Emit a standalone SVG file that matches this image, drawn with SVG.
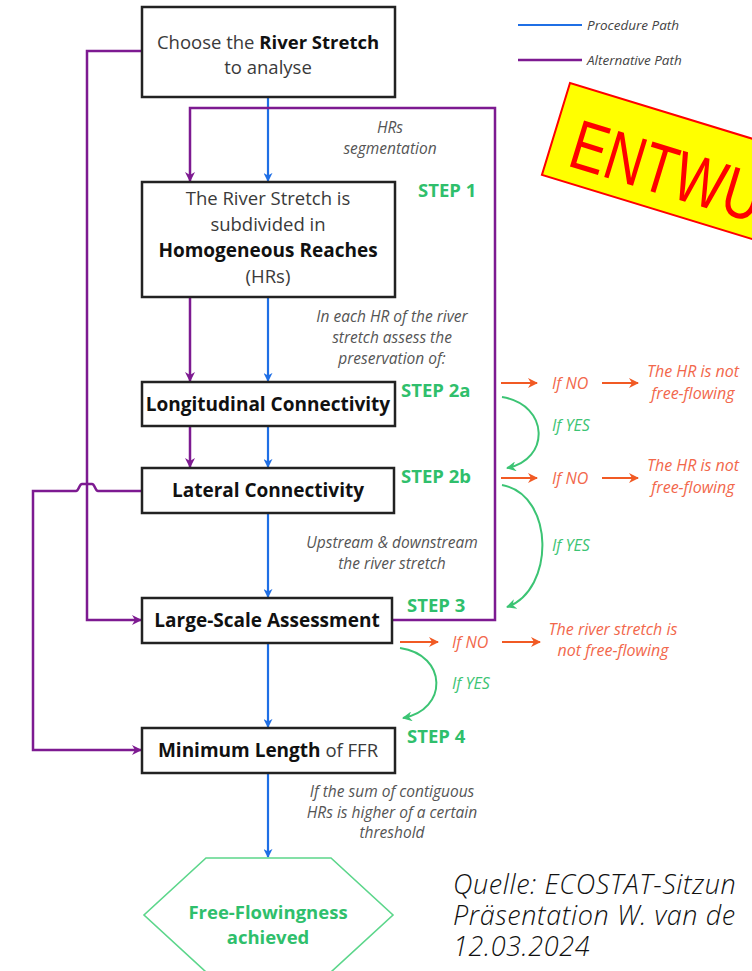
<svg xmlns="http://www.w3.org/2000/svg" width="752" height="971" viewBox="0 0 752 971">
<defs>
<style>
.box{fill:#fff;stroke:#222;stroke-width:2.5}
.t{font-family:"Open Sans","Noto Sans",sans-serif;fill:#3a3a3a;text-anchor:middle;font-size:18.5px}
.b{font-weight:bold;fill:#111}
.bt{font-family:"Open Sans","Noto Sans",sans-serif;font-weight:bold;fill:#111;text-anchor:middle;font-size:19px}
.note{font-family:"Open Sans","Noto Sans",sans-serif;font-style:italic;fill:#555;font-size:15.5px;text-anchor:middle}
.step{font-family:"Open Sans","Noto Sans",sans-serif;font-weight:bold;fill:#2fbf6c;font-size:18.5px}
.or{font-family:"Open Sans","Noto Sans",sans-serif;font-style:italic;fill:#f2674b;font-size:16px}
.yes{font-family:"Open Sans","Noto Sans",sans-serif;font-style:italic;fill:#3cc474;font-size:16px}
.blue{fill:none;stroke:#1f6fe5;stroke-width:2.2}
.purple{fill:none;stroke:#7d1a91;stroke-width:2.5}
.orange{fill:none;stroke:#f15a24;stroke-width:2.2}
.green{fill:none;stroke:#3cc474;stroke-width:2}
.leg{font-family:"Open Sans","Noto Sans",sans-serif;font-style:italic;fill:#444;font-size:13.5px}
</style>
<marker id="ab" viewBox="0 0 10 10" refX="9" refY="5" markerWidth="9" markerHeight="9" markerUnits="userSpaceOnUse" orient="auto"><path d="M0,0 L10,5 L0,10 L3,5 z" fill="#1f6fe5"/></marker>
<marker id="ap" viewBox="0 0 10 10" refX="9" refY="5" markerWidth="10" markerHeight="10" markerUnits="userSpaceOnUse" orient="auto"><path d="M0,0 L10,5 L0,10 L3,5 z" fill="#7d1a91"/></marker>
<marker id="ao" viewBox="0 0 10 10" refX="9" refY="5" markerWidth="10" markerHeight="10" markerUnits="userSpaceOnUse" orient="auto"><path d="M0,0 L10,5 L0,10 L3,5 z" fill="#f15a24"/></marker>
<marker id="ag" viewBox="0 0 10 10" refX="9" refY="5" markerWidth="10" markerHeight="10" markerUnits="userSpaceOnUse" orient="auto"><path d="M0,0 L10,5 L0,10 L3,5 z" fill="#3cc474"/></marker>
</defs>
<rect width="752" height="971" fill="#fff"/>

<g id="legend">
<line x1="518" y1="25" x2="582" y2="25" stroke="#1f6fe5" stroke-width="2.2"/>
<text class="leg" x="587" y="30">Procedure Path</text>
<line x1="518" y1="60" x2="582" y2="60" stroke="#7d1a91" stroke-width="2.5"/>
<text class="leg" x="587" y="65">Alternative Path</text>
</g>

<g id="connectors">
<path class="blue" d="M268,97 V181" marker-end="url(#ab)"/>
<path class="blue" d="M268,297 V381" marker-end="url(#ab)"/>
<path class="blue" d="M268,426 V467" marker-end="url(#ab)"/>
<path class="blue" d="M268,513 V597" marker-end="url(#ab)"/>
<path class="blue" d="M268,643 V727" marker-end="url(#ab)"/>
<path class="blue" d="M268,773 V857" marker-end="url(#ab)"/>
<path class="purple" d="M392,620 H495 V108 H190 V181" marker-end="url(#ap)"/>
<path class="purple" d="M190,297 V381" marker-end="url(#ap)"/>
<path class="purple" d="M190,426 V467" marker-end="url(#ap)"/>
<path class="purple" d="M142,51 H87 V620 H141" marker-end="url(#ap)"/>
<path class="purple" d="M142,491 H98 C95,491 95,484 92,484 H82 C79,484 79,491 76,491 H33 V750 H141" marker-end="url(#ap)"/>
<path class="orange" d="M501,383 H537" marker-end="url(#ao)"/>
<path class="orange" d="M602,383 H638" marker-end="url(#ao)"/>
<path class="orange" d="M501,478 H537" marker-end="url(#ao)"/>
<path class="orange" d="M602,478 H638" marker-end="url(#ao)"/>
<path class="orange" d="M400,642 H438" marker-end="url(#ao)"/>
<path class="orange" d="M502,642 H540" marker-end="url(#ao)"/>
<path class="green" d="M502,397 C550,405 550,460 507,468" marker-end="url(#ag)"/>
<path class="green" d="M502,485 C555,495 555,590 507,607" marker-end="url(#ag)"/>
<path class="green" d="M400,648 C448,655 448,710 403,718" marker-end="url(#ag)"/>
</g>

<g id="n1">
<rect class="box" x="142" y="7" width="253" height="90"/>
<text class="t" x="268" y="49">Choose the <tspan class="b">River Stretch</tspan></text>
<text class="t" x="268" y="74">to analyse</text>
</g>

<g id="n2">
<rect class="box" x="142" y="182" width="253" height="115"/>
<text class="t" x="268" y="205">The River Stretch is</text>
<text class="t" x="268" y="231">subdivided in</text>
<text class="bt" x="268" y="257">Homogeneous Reaches</text>
<text class="t" x="268" y="283">(HRs)</text>
</g>

<g id="n3">
<rect class="box" x="142" y="382" width="253" height="44"/>
<text class="bt" x="268" y="411">Longitudinal Connectivity</text>
</g>

<g id="n4">
<rect class="box" x="142" y="468" width="252" height="45"/>
<text class="bt" x="268" y="497">Lateral Connectivity</text>
</g>

<g id="n5">
<rect class="box" x="142" y="598" width="250" height="45"/>
<text class="bt" x="267" y="627">Large-Scale Assessment</text>
</g>

<g id="n6">
<rect class="box" x="142" y="728" width="253" height="45"/>
<text class="t" x="268" y="757"><tspan class="b" font-size="19">Minimum Length</tspan> of FFR</text>
</g>

<g id="n7">
<polygon points="206,858 331,858 393,915 331,972 206,972 144,915" fill="#fff" stroke="#5cd68b" stroke-width="1.6"/>
<text x="268" y="919" font-family="Open Sans, Noto Sans, sans-serif" font-weight="bold" font-size="18.5" fill="#2fbf6c" text-anchor="middle">Free-Flowingness</text>
<text x="268" y="944" font-family="Open Sans, Noto Sans, sans-serif" font-weight="bold" font-size="18.5" fill="#2fbf6c" text-anchor="middle">achieved</text>
</g>

<g id="labels">
<text class="note" x="390" y="133">HRs</text>
<text class="note" x="390" y="154">segmentation</text>
<text class="note" x="392" y="322">In each HR of the river</text>
<text class="note" x="392" y="343">stretch assess the</text>
<text class="note" x="392" y="364">preservation of:</text>
<text class="note" x="392" y="548">Upstream &amp; downstream</text>
<text class="note" x="392" y="569">the river stretch</text>
<text class="note" x="392" y="797">If the sum of  contiguous</text>
<text class="note" x="392" y="818">HRs is higher of a certain</text>
<text class="note" x="392" y="838">threshold</text>
<text class="step" x="418" y="197">STEP 1</text>
<text class="step" x="401" y="397">STEP 2a</text>
<text class="step" x="401" y="483">STEP 2b</text>
<text class="step" x="407" y="612">STEP 3</text>
<text class="step" x="407" y="743">STEP 4</text>
<text class="or" x="552" y="389">If NO</text>
<text class="or" x="693" y="377" text-anchor="middle">The HR is not</text>
<text class="or" x="693" y="399" text-anchor="middle">free-flowing</text>
<text class="yes" x="552" y="431">If YES</text>
<text class="or" x="552" y="484">If NO</text>
<text class="or" x="693" y="471" text-anchor="middle">The HR is not</text>
<text class="or" x="693" y="493" text-anchor="middle">free-flowing</text>
<text class="yes" x="552" y="551">If YES</text>
<text class="or" x="452" y="648">If NO</text>
<text class="or" x="613" y="635" text-anchor="middle">The river stretch is</text>
<text class="or" x="613" y="656" text-anchor="middle">not free-flowing</text>
<text class="yes" x="452" y="689">If YES</text>
</g>

<g id="stamp" transform="translate(570,83) rotate(17)">
<rect x="0" y="0" width="360" height="96" fill="#ffff00" stroke="#ff0000" stroke-width="2"/>
<text transform="translate(20,80) scale(0.77,1)" x="0" y="0" font-family="Liberation Sans, Arial, sans-serif" font-size="70" fill="#ff0000">ENTWURF</text>
</g>

<g id="source" font-family="Open Sans, Noto Sans, sans-serif" font-style="italic" font-weight="300" font-size="27" letter-spacing="0.6" fill="#111">
<text x="453" y="894">Quelle: ECOSTAT-Sitzun</text>
<text x="453" y="925">Präsentation W. van de</text>
<text x="453" y="956">12.03.2024</text>
</g>
</svg>
